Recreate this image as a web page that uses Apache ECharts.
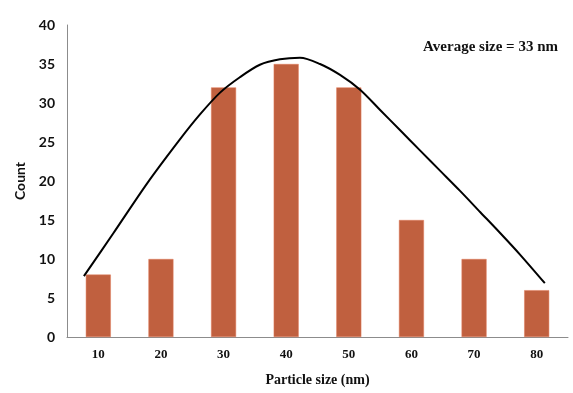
<!DOCTYPE html>
<html>
<head>
<meta charset="utf-8">
<script src="https://cdn.jsdelivr.net/npm/echarts@6/dist/echarts.min.js"></script>
<style>
  html, body { margin: 0; padding: 0; background: #fff; }
  #chart { width: 573px; height: 393px; }
</style>
</head>
<body>
<div id="chart"></div>
<script>
// particle size categories (nm) and counts
const sizes = ['10', '20', '30', '40', '50', '60', '70', '80']
const counts = [8, 10, 32, 35, 32, 15, 10, 6]
// fitted distribution curve: [size nm, count]
const curveX = [7.7, 12.4, 17.8, 23.0, 26.2, 29.4, 32.6, 35.8, 39.0, 42.2, 45.4, 48.6, 51.8, 55.0, 58.2, 61.4, 64.6, 67.8, 71.0, 74.2, 77.3, 81.3]
const curveY = [7.8, 13.3, 19.7, 25.3, 28.5, 31.3, 33.3, 34.9, 35.6, 35.8, 35.0, 33.6, 31.7, 29.1, 26.5, 23.9, 21.3, 18.7, 16.0, 13.3, 10.6, 6.9]
const yTicks = { min: 0, max: 40, interval: 5 }

const serif = '"Liberation Serif", "Times New Roman", serif'
const sans = 'Lato, "Open Sans", sans-serif'

const chart = echarts.init(document.getElementById('chart'))
chart.setOption({
  animation: false,
  title: {
    text: 'Average size = 33 nm',
    right: 10,
    top: 35,
    textStyle: { fontFamily: serif, fontWeight: 'bold', fontSize: 15, color: '#111' }
  },
  grid: { left: 67, right: 5, top: 25, bottom: 56 },
  xAxis: [
    {
      type: 'category',
      data: sizes,
      axisLine: { lineStyle: { color: '#8c8c8c', width: 1 } },
      axisTick: { show: false },
      axisLabel: { fontFamily: serif, fontWeight: 'bold', fontSize: 13, color: '#111', margin: 11 },
      name: 'Particle size (nm)',
      nameLocation: 'middle',
      nameGap: 36,
      nameTextStyle: { fontFamily: serif, fontWeight: 'bold', fontSize: 14, color: '#111' }
    },
    {
      type: 'value',
      min: 5,
      max: 85,
      show: false
    }
  ],
  yAxis: {
    type: 'value',
    min: yTicks.min,
    max: yTicks.max,
    interval: yTicks.interval,
    axisLine: { show: true, lineStyle: { color: '#8c8c8c', width: 1 } },
    axisTick: { show: false },
    splitLine: { show: false },
    axisLabel: { fontFamily: sans, fontWeight: 'bold', fontSize: 14, color: '#111', margin: 12 },
    name: 'Count',
    nameLocation: 'middle',
    nameGap: 39,
    nameTextStyle: { fontFamily: sans, fontWeight: 'bold', fontSize: 14, color: '#111' }
  },
  series: [
    {
      type: 'bar',
      xAxisIndex: 0,
      data: counts,
      barWidth: 25,
      itemStyle: { color: '#c0603f', borderColor: '#e07a5a', borderWidth: 0.5 }
    },
    {
      type: 'line',
      xAxisIndex: 1,
      data: curveX.map((x, i) => [x, curveY[i]]),
      smooth: 0.3,
      symbol: 'none',
      lineStyle: { color: '#000', width: 2 },
      z: 5
    }
  ]
})
</script>
</body>
</html>
